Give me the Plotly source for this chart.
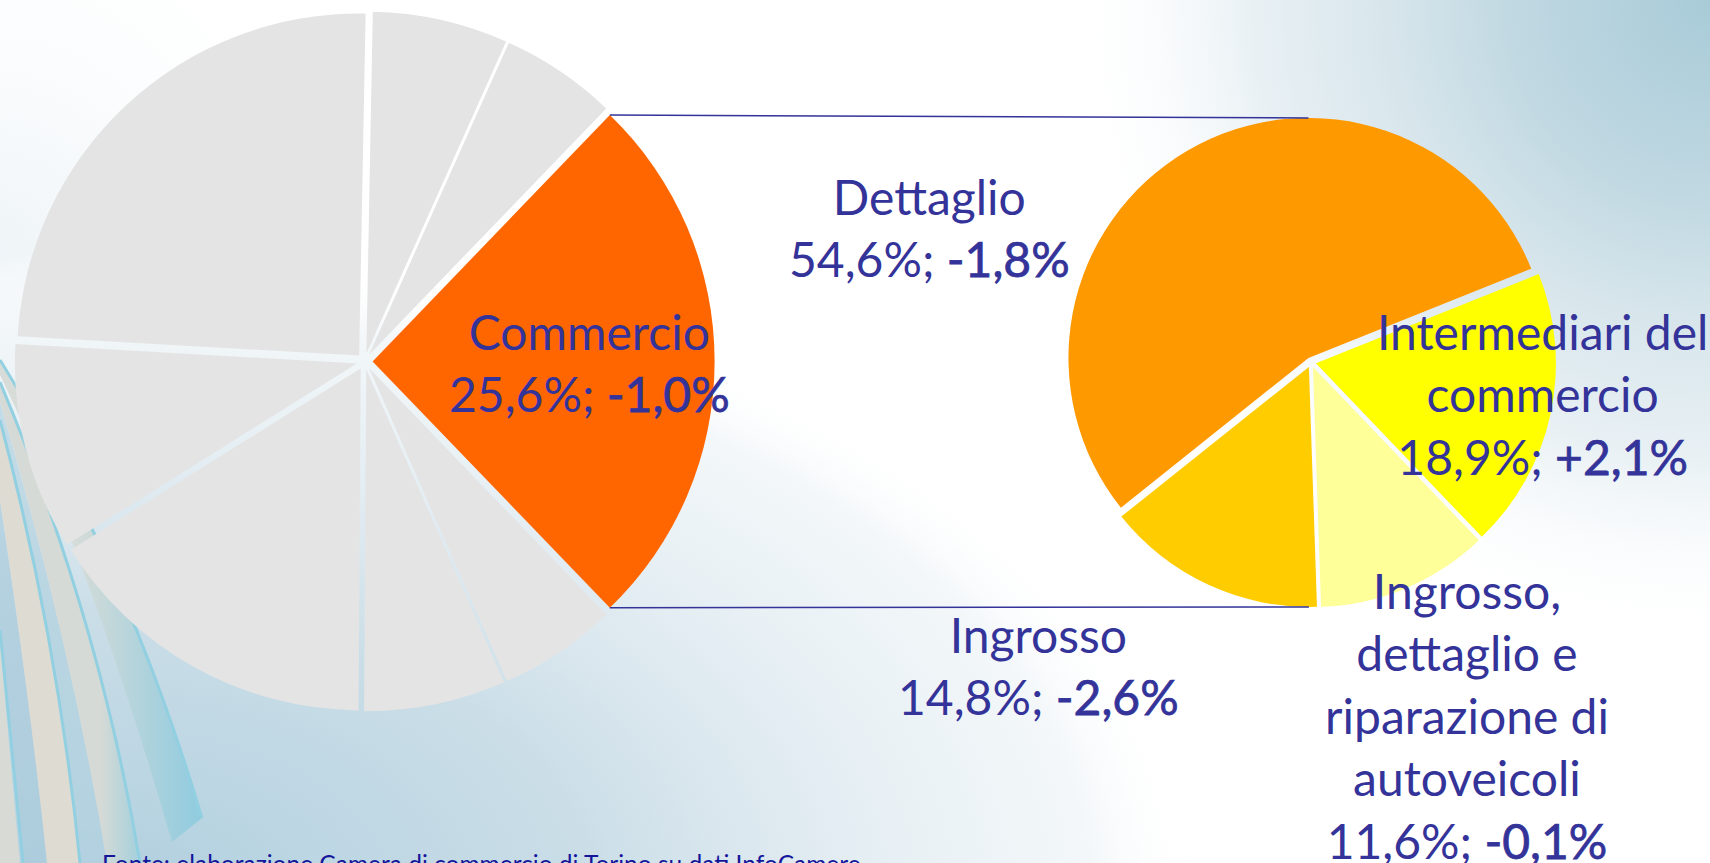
import base64
import math
import plotly.graph_objects as go

W, H = 1710, 863

# ---------------- data ----------------
main_labels = ["Commercio", "Altri settori A", "Altri settori B", "Altri settori C",
               "Altri settori D", "Altri settori E", "Altri settori F", "Altri settori G"]
main_values = [25.6, 5.6, 6.7, 16.0, 9.8, 24.4, 6.4, 5.5]
main_variation = "-1,0%"

sub_labels = ["Dettaglio", "Intermediari del commercio",
              "Ingrosso, dettaglio e riparazione di autoveicoli", "Ingrosso"]
sub_label_lines = ["Dettaglio", "Intermediari del<br>commercio",
                   "Ingrosso,<br>dettaglio e<br>riparazione di<br>autoveicoli", "Ingrosso"]
sub_values = [54.6, 18.9, 11.6, 14.8]
sub_variations = ["-1,8%", "+2,1%", "-0,1%", "-2,6%"]

source_text = "Fonte: elaborazione Camera di commercio di Torino su dati InfoCamere"

# ---------------- styling / geometry ----------------
TXT = "#333399"
FONT = "Lato, 'Noto Sans', sans-serif"
LABEL_SIZE = 48
main_colors = ["#FF6600"] + ["#E4E4E4"] * 7
sub_colors = ["#FF9900", "#FFFF00", "#FFFF99", "#FFCC00"]

L_CX, L_CY, L_R, L_PULL = 364.6, 361.4, 342.0, 0.0234
R_CX, R_CY, R_R, R_PULL = 1311.0, 362.3, 240.0, 0.021
R_ROT = -128.6


def px(x):
    return x / W


def py(y):
    return 1 - y / H


def domain(cx, cy, r, pull):
    half = r * (1 + pull)
    return dict(x=[px(cx - half), px(cx + half)], y=[py(cy + half), py(cy - half)])


def pct(v):
    return f"{v:.1f}".replace(".", ",") + "%"


main_total = sum(main_values)
sub_total = sum(sub_values)
L_ROT = 90 - main_values[0] / main_total * 180  # Commercio centred at 3 o'clock

fig = go.Figure()
fig.add_trace(go.Pie(
    labels=main_labels, values=main_values, sort=False, direction="clockwise",
    rotation=L_ROT, pull=[L_PULL] * len(main_values),
    marker=dict(colors=main_colors, line=dict(width=0)),
    textinfo="none", hoverinfo="label+percent", showlegend=False,
    domain=domain(L_CX, L_CY, L_R, L_PULL),
))
fig.add_trace(go.Pie(
    labels=sub_labels, values=sub_values, sort=False, direction="clockwise",
    rotation=R_ROT, pull=[R_PULL] * len(sub_values),
    marker=dict(colors=sub_colors, line=dict(width=0)),
    textinfo="none", hoverinfo="label+percent", showlegend=False,
    domain=domain(R_CX, R_CY, R_R, R_PULL),
))

# ---------------- connector lines (computed from pie geometry) ----------------
half = math.radians(main_values[0] / main_total * 180)
apex_lx = L_CX + L_PULL * L_R
top_left = (apex_lx + L_R * math.cos(half), L_CY - L_R * math.sin(half))
bot_left = (apex_lx + L_R * math.cos(half), L_CY + L_R * math.sin(half))


def sub_apex(i):
    start = R_ROT + sum(sub_values[:i]) / sub_total * 360
    bis = start + sub_values[i] / sub_total * 180  # compass degrees
    d = R_PULL * R_R
    return (R_CX + d * math.sin(math.radians(bis)), R_CY - d * math.cos(math.radians(bis)))


a0 = sub_apex(0)
a3 = sub_apex(3)
top_right = (a0[0], a0[1] - R_R)
bot_right = (a3[0], a3[1] + R_R)

shapes = []
for p0, p1 in [(top_left, top_right), (bot_left, bot_right)]:
    shapes.append(dict(type="line", xref="paper", yref="paper",
                       x0=px(p0[0]), y0=py(p0[1]), x1=px(p1[0]), y1=py(p1[1]),
                       line=dict(color=TXT, width=1.5), layer="above"))

# ---------------- labels ----------------
label_pos_main = (589, 362.5)
label_pos_sub = [(929, 227), (1542, 393.5), (1467, 715.5), (1038, 665.5)]


def bold(s):
    return f"<span style='stroke:{TXT};stroke-width:0.75px'>{s}</span>"


annotations = [dict(
    x=px(label_pos_main[0]), y=py(label_pos_main[1]), xref="paper", yref="paper",
    text=f"{main_labels[0]}<br>{pct(main_values[0])}; {bold(main_variation)}",
    showarrow=False, xanchor="center", yanchor="middle", align="center",
    font=dict(family=FONT, size=LABEL_SIZE, color=TXT))]
for lines, v, var, pos in zip(sub_label_lines, sub_values, sub_variations, label_pos_sub):
    annotations.append(dict(
        x=px(pos[0]), y=py(pos[1]), xref="paper", yref="paper",
        text=f"{lines}<br>{pct(v)}; {bold(var)}",
        showarrow=False, xanchor="center", yanchor="middle", align="center",
        font=dict(family=FONT, size=LABEL_SIZE, color=TXT)))
annotations.append(dict(
    x=px(100), y=py(847), xref="paper", yref="paper", text=source_text,
    showarrow=False, xanchor="left", yanchor="top", align="left",
    font=dict(family=FONT, size=24.5, color="#15159a")))

# ---------------- decorative background (generated SVG) ----------------
svg = f"""<svg xmlns="http://www.w3.org/2000/svg" width="{W}" height="{H}" viewBox="0 0 {W} {H}">
<defs>
<radialGradient id="trg" cx="0.5" cy="0.5" r="0.5">
<stop offset="0" stop-color="#a8cbd8"/>
<stop offset="0.3" stop-color="#c0d8e2"/>
<stop offset="0.5" stop-color="#d8e6ec"/>
<stop offset="0.7" stop-color="#e8f0f4"/>
<stop offset="1" stop-color="#ffffff" stop-opacity="0"/>
</radialGradient>
<radialGradient id="blg" cx="0.5" cy="0.5" r="0.5">
<stop offset="0" stop-color="#b0cedd"/>
<stop offset="0.2" stop-color="#bcd6e3"/>
<stop offset="0.43" stop-color="#c9dde7"/>
<stop offset="0.6" stop-color="#dce8ef"/>
<stop offset="0.75" stop-color="#e9f1f5"/>
<stop offset="0.9" stop-color="#f3f7f9"/>
<stop offset="1" stop-color="#ffffff" stop-opacity="0"/>
</radialGradient>
<radialGradient id="tlg" cx="0.5" cy="0.5" r="0.5">
<stop offset="0" stop-color="#eef4f7"/>
<stop offset="1" stop-color="#ffffff" stop-opacity="0"/>
</radialGradient>
<linearGradient id="blade" x1="0" y1="0" x2="1" y2="0">
<stop offset="0.35" stop-color="#d8dcd8"/>
<stop offset="1" stop-color="#8fcbdf"/>
</linearGradient>
<linearGradient id="band3" gradientUnits="userSpaceOnUse" x1="100" y1="0" x2="140" y2="0">
<stop offset="0" stop-color="#d6dad6"/>
<stop offset="1" stop-color="#a4d0dc"/>
</linearGradient>
</defs>
<rect x="0" y="0" width="{W}" height="{H}" fill="#ffffff"/>
<ellipse cx="0" cy="250" rx="380" ry="420" fill="url(#tlg)"/>
<ellipse cx="100" cy="900" rx="1100" ry="650" fill="url(#blg)"/>
<circle cx="{W}" cy="0" r="650" fill="url(#trg)"/>
<path d="M0,640 Q10,760 20,863 L0,863 Z" fill="#d8dad5"/>
<path d="M0,630 Q12,750 23,863 L47,863 Q30,700 0,500 Z" fill="#a9cbdc" fill-opacity="0.7"/>
<path d="M0,500 Q30,700 47,863 L80,863 Q58,640 0,420 Z" fill="#dedbd3"/>
<path d="M0,420 Q58,640 80,863 L107,863 Q70,640 0,402 Z" fill="#b2d2e0" fill-opacity="0.7"/>
<path d="M0,402 Q70,640 107,863 L140,863 Q100,620 0,382 Z" fill="url(#band3)"/>
<path d="M0,375 Q90,560 172,842 L202,818 Q125,560 0,360 Z" fill="url(#blade)"/>
<path d="M0,630 Q12,750 23,863" fill="none" stroke="#92d0e1" stroke-width="3"/>
<path d="M0,420 Q58,640 80,863" fill="none" stroke="#92d0e1" stroke-width="3"/>
<path d="M0,382 Q100,620 140,863" fill="none" stroke="#92d0e1" stroke-width="3"/>
<path d="M0,360 Q125,560 202,818" fill="none" stroke="#92d0e1" stroke-width="3"/>
</svg>"""
bg_uri = "data:image/svg+xml;base64," + base64.b64encode(svg.encode("utf-8")).decode("ascii")

fig.update_layout(
    width=W, height=H, margin=dict(l=0, r=0, t=0, b=0),
    paper_bgcolor="#ffffff", plot_bgcolor="rgba(0,0,0,0)",
    showlegend=False, shapes=shapes, annotations=annotations,
    images=[dict(source=bg_uri, xref="paper", yref="paper", x=0, y=1,
                 sizex=1, sizey=1, xanchor="left", yanchor="top",
                 sizing="stretch", layer="below")],
)

fig.write_html(
    "out.html",
    config={"displayModeBar": False},
    post_script="document.body.style.margin='0';document.body.style.overflow='hidden';",
)
